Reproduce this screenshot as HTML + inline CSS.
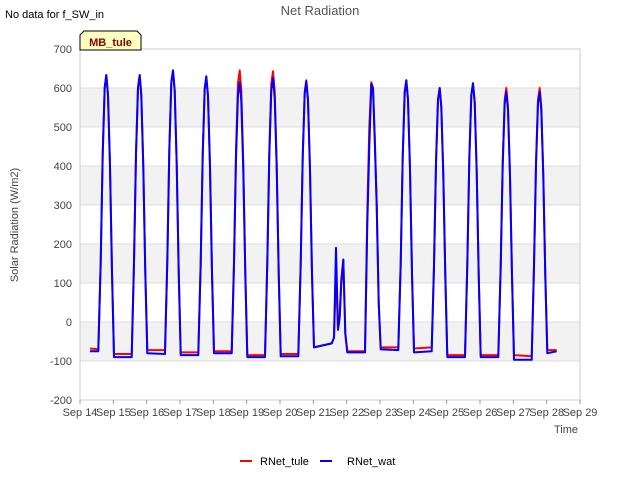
<!DOCTYPE html>
<html><head><meta charset="utf-8"><style>
body{margin:0;background:#fff;font-family:"Liberation Sans",sans-serif}
svg text{font-family:"Liberation Sans",sans-serif}
</style></head><body>
<svg id="c" width="640" height="480" viewBox="0 0 640 480" xmlns="http://www.w3.org/2000/svg">
<rect width="640" height="480" fill="#fff"/>
<g id="bands"></g><g id="grid"></g>
<rect x="80" y="49" width="500" height="351" fill="none" stroke="#ccc"/>
<g id="axes"></g>
<g id="series"></g>
<text x="320" y="15" text-anchor="middle" font-size="13" fill="#555">Net Radiation</text>
<text x="5" y="18" font-size="11" fill="#000">No data for f_SW_in</text>
<g><path d="M80,50 L80,35 L84,31 L137,31 L141,35 L141,50 Z" fill="#ffffc0" stroke="#000"/>
<text x="110.5" y="46" text-anchor="middle" font-size="11" font-weight="bold" fill="#8b0000">MB_tule</text></g>
<text transform="translate(18,225) rotate(-90)" text-anchor="middle" font-size="11" fill="#444">Solar Radiation (W/m2)</text>
<text x="566" y="433" text-anchor="middle" font-size="11" fill="#444">Time</text>
<g><line x1="240" y1="461" x2="252" y2="461" stroke="#f00" stroke-width="2"/><text x="260" y="465" font-size="11" fill="#000">RNet_tule</text></g>
<g><line x1="320" y1="461" x2="332" y2="461" stroke="#00f" stroke-width="2"/><text x="347" y="465" font-size="11" fill="#000">RNet_wat</text></g>
</svg>
<script>
const yTicks=[-200,-100,0,100,200,300,400,500,600,700];
const xLabels=["Sep 14","Sep 15","Sep 16","Sep 17","Sep 18","Sep 19","Sep 20","Sep 21","Sep 22","Sep 23","Sep 24","Sep 25","Sep 26","Sep 27","Sep 28","Sep 29"];
const dayOffsets=[0.55,0.62,0.68,0.74,0.79,0.84,0.90,0.96,1.02];
const tuleValues=[-68,
-70,152,430,601,633,582,399,127,-82,
-82,152,431,602,634,583,399,127,-72,
-72,155,439,613,645,593,406,129,-78,
-78,151,427,597,628,578,396,126,-75,
-75,155,439,613,645,593,406,129,-85,
-85,154,437,611,643,592,405,129,-82,
-82,149,422,589,620,570,391,124,-65,
-55,-40,130,-20,20,110,160,-30,-75,
-75,280,500,615,600,480,300,50,-65,
-65,149,422,589,620,570,391,124,-68,
-65,144,408,570,600,552,378,120,-85,
-85,147,416,581,612,563,386,122,-85,
-85,144,408,570,600,552,378,120,-85,
-88,144,408,570,600,552,378,120,-72,
-72];
const watValues=[-75,
-75,152,430,601,633,582,399,127,-90,
-90,152,430,600,632,581,398,126,-80,
-82,155,439,613,645,593,406,129,-85,
-85,151,428,599,630,580,397,126,-80,
-80,148,418,584,615,566,387,123,-90,
-90,150,425,594,625,575,394,125,-88,
-88,148,420,586,617,568,389,123,-65,
-55,-40,190,-20,10,100,160,-30,-78,
-78,250,450,610,600,470,300,50,-70,
-72,149,422,589,620,570,391,124,-78,
-75,144,408,570,600,552,378,120,-90,
-90,147,416,581,612,563,386,122,-90,
-90,142,401,561,590,543,372,118,-97,
-97,142,401,561,590,543,372,118,-80,
-75];
const NS="http://www.w3.org/2000/svg";
const X=d=>80+d*(500/15), Y=v=>322-v*0.39;
const times=[0.3];
for(let d=0;d<14;d++)for(const o of dayOffsets)times.push(d+o);
times.push(14.3);
const bands=document.getElementById('bands'),grid=document.getElementById('grid'),axes=document.getElementById('axes'),ser=document.getElementById('series');
function mk(tag,attrs,parent){const e=document.createElementNS(NS,tag);for(const k in attrs)e.setAttribute(k,attrs[k]);parent.appendChild(e);return e;}
[[500,600],[300,400],[100,200],[-100,0]].forEach(b=>{
 const r=mk('rect',{x:80,y:Y(b[1]),width:500,height:Y(b[0])-Y(b[1]),fill:'#f2f2f2'},bands);
 
 
});
yTicks.forEach(v=>{
 const l=mk('line',{x1:80,x2:580,y1:Y(v),y2:Y(v),stroke:'#ddd'},grid);
 
 
 const t=mk('text',{x:72,y:Y(v)+4,'text-anchor':'end','font-size':11,fill:'#444'},axes);
 t.textContent=v;
 
 
});
xLabels.forEach((s,i)=>{
 const tk=mk('line',{x1:X(i),x2:X(i),y1:400,y2:404,stroke:'#999'},axes);
 
 
 const t=mk('text',{x:X(i),y:416,'text-anchor':'middle','font-size':11,fill:'#444'},axes);
 t.textContent=s;
 
 
});
function line(vals,color,name){
 const p=mk('polyline',{points:vals.map((v,i)=>X(times[i]).toFixed(1)+','+Y(v).toFixed(1)).join(' '),fill:'none',stroke:color,'stroke-width':2,'stroke-linejoin':'round'},ser);
 
 
}
line(tuleValues,'#f00','series-rnet-tule');
line(watValues,'#00f','series-rnet-wat');
</script>
</body></html>
